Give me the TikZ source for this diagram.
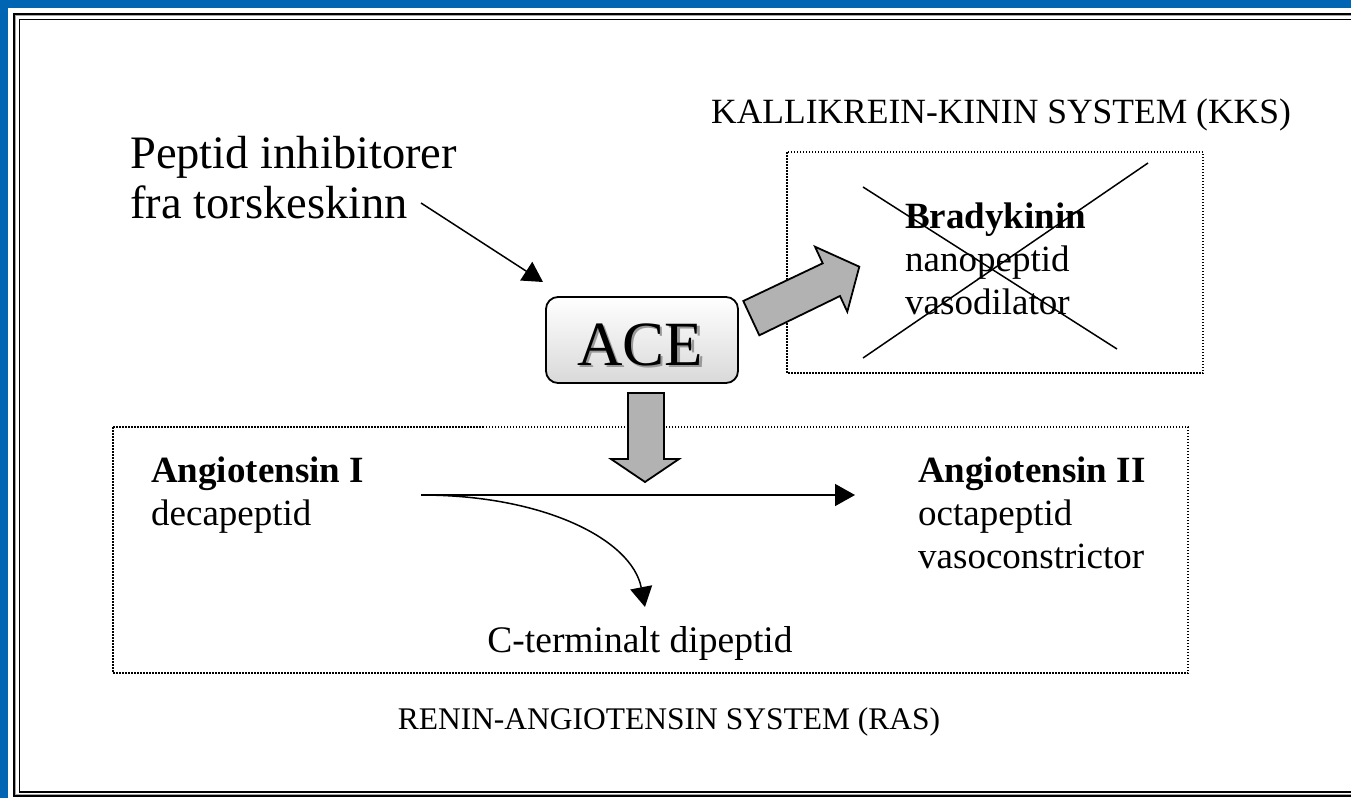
\documentclass[tikz,border=0pt]{standalone}
\usepackage{fontspec}
\setmainfont{Liberation Serif}
\usetikzlibrary{arrows.meta}
\definecolor{frameblue}{RGB}{0,102,179}
\definecolor{arrowgray}{RGB}{178,178,178}
\tikzset{
  body/.style={font=\fontsize{37}{43}\selectfont, inner sep=0pt, align=left, anchor=north west},
  syslabel/.style={font=\fontsize{33}{38}\selectfont, inner sep=0pt, anchor=base},
  reaction/.style={line width=1.5pt, -{Triangle[length=20pt,width=22pt]}},
  fatarrow/.style={fill=arrowgray, draw=black, line width=1.8pt, line join=miter},
  sysbox/.style={draw=black, line width=1.5pt, dash pattern=on 1.5pt off 1.5pt},
  acefont/.style={font=\fontsize{63}{63}\selectfont, inner sep=0pt, anchor=base},
}
\begin{document}
\begin{tikzpicture}[x=1pt,y=-1pt]
	\useasboundingbox (0,0) rectangle (1351,798);
	\clip (0,0) rectangle (1351,798);
	% ramme
	\fill[frameblue] (0,0) rectangle (1351,7.5);
	\fill[frameblue] (0,0) rectangle (7.5,798);
	\draw[line width=2pt] (14.3,14.3) rectangle (1380,796);
	\draw[line width=1pt, black!35] (15.9,15.9) rectangle (1380,794.4);
	\draw[line width=1.4pt] (19.2,19.2) rectangle (1380,791.8);
	
	% systemer
	\draw[sysbox] (787,152) rectangle (1203,373);
	\draw[sysbox] (113,427) rectangle (1188,673);
	\node[syslabel, font=\fontsize{35.5}{40}\selectfont] (kks) at (1001,123) {KALLIKREIN-KININ SYSTEM (KKS)};
	\node[syslabel, font=\fontsize{31.5}{36}\selectfont] (ras) at (669,729) {RENIN-ANGIOTENSIN SYSTEM (RAS)};
	
	% tekster
	\node[body, font=\fontsize{46.5}{50}\selectfont] (pep) at (130,136.2) {Peptid inhibitorer\\fra torskeskinn};
	\node[body] (brady) at (905,203) {\textbf{Bradykinin}\\nanopeptid\\vasodilator};
	\node[body] (ang1) at (151,457) {\textbf{Angiotensin I}\\decapeptid};
	\node[body] (ang2) at (918,457) {\textbf{Angiotensin II}\\octapeptid\\vasoconstrictor};
	\node[body, anchor=base, font=\fontsize{37.5}{43}\selectfont] (dip) at (640,652) {C-terminalt dipeptid};
	
	% ACE
	\node[draw, line width=1.8pt, rounded corners=12pt, minimum width=192pt, minimum height=86pt,
		top color=white, bottom color=black!15] (ace) at (642,340) {};
	\node[acefont, text=black!40] (aceshadow) at (642.5,367.5) {ACE};
	\node[acefont] (acetext) at (640,365) {ACE};
	
	% pil fra peptid til ACE
	\coordinate (pepend) at (421,203);
	\coordinate (acein) at (543,282);
	\draw[reaction] (pepend) -- (acein);
	
	% tykke piler
	\draw[fatarrow] (743.3,301) -- (822.7,263.3) -- (815,246.7) -- (859.3,266.7)
		-- (847.3,311.7) -- (840,296) -- (759.3,335.3) -- cycle;
	\draw[fatarrow] (628,393) -- (664,393) -- (664,459) -- (679,459) -- (645,482)
		-- (611,459) -- (628,459) -- cycle;
	
	% reaksjon
	\coordinate (rstart) at (421,495);
	\coordinate (rend) at (855,495);
	\coordinate (dipend) at (645,607);
	\draw[reaction] (rstart) -- (rend);
	\draw[reaction] (rstart) .. controls (545,495) and (632,540) .. (dipend);
	
	% kryss over bradykinin
	\draw[line width=1.5pt] (863,187) -- (1117,349);
	\draw[line width=1.5pt] (863,358) -- (1148,163);
\end{tikzpicture}
\end{document}
